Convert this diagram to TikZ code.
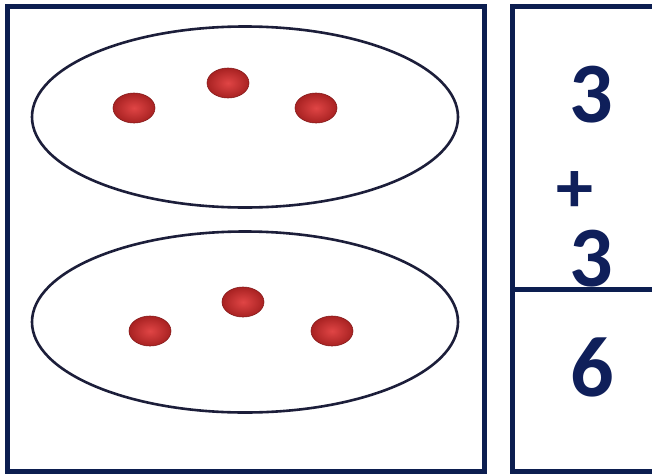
\documentclass[tikz,border=0pt]{standalone}
\usepackage{fontspec}
\setmainfont{Carlito}
\usetikzlibrary{shapes.geometric}
\definecolor{framecol}{HTML}{0C1E50}
\definecolor{ringcol}{HTML}{1C1E3A}
\definecolor{numcol}{HTML}{0F1F5A}
\definecolor{dotin}{HTML}{E04545}
\definecolor{dotout}{HTML}{A82222}
\tikzset{
  frame/.style={draw=framecol, line width=5pt},
  group/.style={ellipse, draw=ringcol, line width=2.6pt, minimum width=426pt, minimum height=181pt, inner sep=0pt},
  counter/.style={ellipse, minimum width=42pt, minimum height=30pt, inner sep=0pt, draw=dotout!80!black, line width=0.6pt, inner color=dotin, outer color=dotout},
  num/.style={text=numcol, inner sep=0pt, anchor=center, font=\bfseries\fontsize{86}{86}\selectfont},
  sign/.style={text=numcol, inner sep=0pt, anchor=center, font=\bfseries\fontsize{74}{74}\selectfont},
}
\begin{document}
\begin{tikzpicture}[x=1pt,y=-1pt]
\useasboundingbox (0,0) rectangle (652,474);
\clip (0,0) rectangle (652,474);
\fill[white] (0,0) rectangle (652,474);
% left box
\draw[frame] (7.5,6.5) rectangle (484.5,471);
% right box
\draw[frame] (700,6.5) -- (512.5,6.5) -- (512.5,471) -- (700,471);
\draw[frame] (512.5,289) -- (700,289);
% groups
\node[group] (g1) at (245,117) {};
\node[group] (g2) at (245,322) {};
% counters
\node[counter] (d1) at (134,108) {};
\node[counter] (d2) at (228,83) {};
\node[counter] (d3) at (316,108) {};
\node[counter] (d4) at (150,331) {};
\node[counter] (d5) at (243,302) {};
\node[counter] (d6) at (332,331) {};
% numbers
\node[num] (n1) at (591,95) {3};
\node[sign] (np) at (575,192) {+};
\node[num] (n2) at (591,259) {3};
\node[num] (n3) at (592,367) {6};
\end{tikzpicture}
\end{document}
